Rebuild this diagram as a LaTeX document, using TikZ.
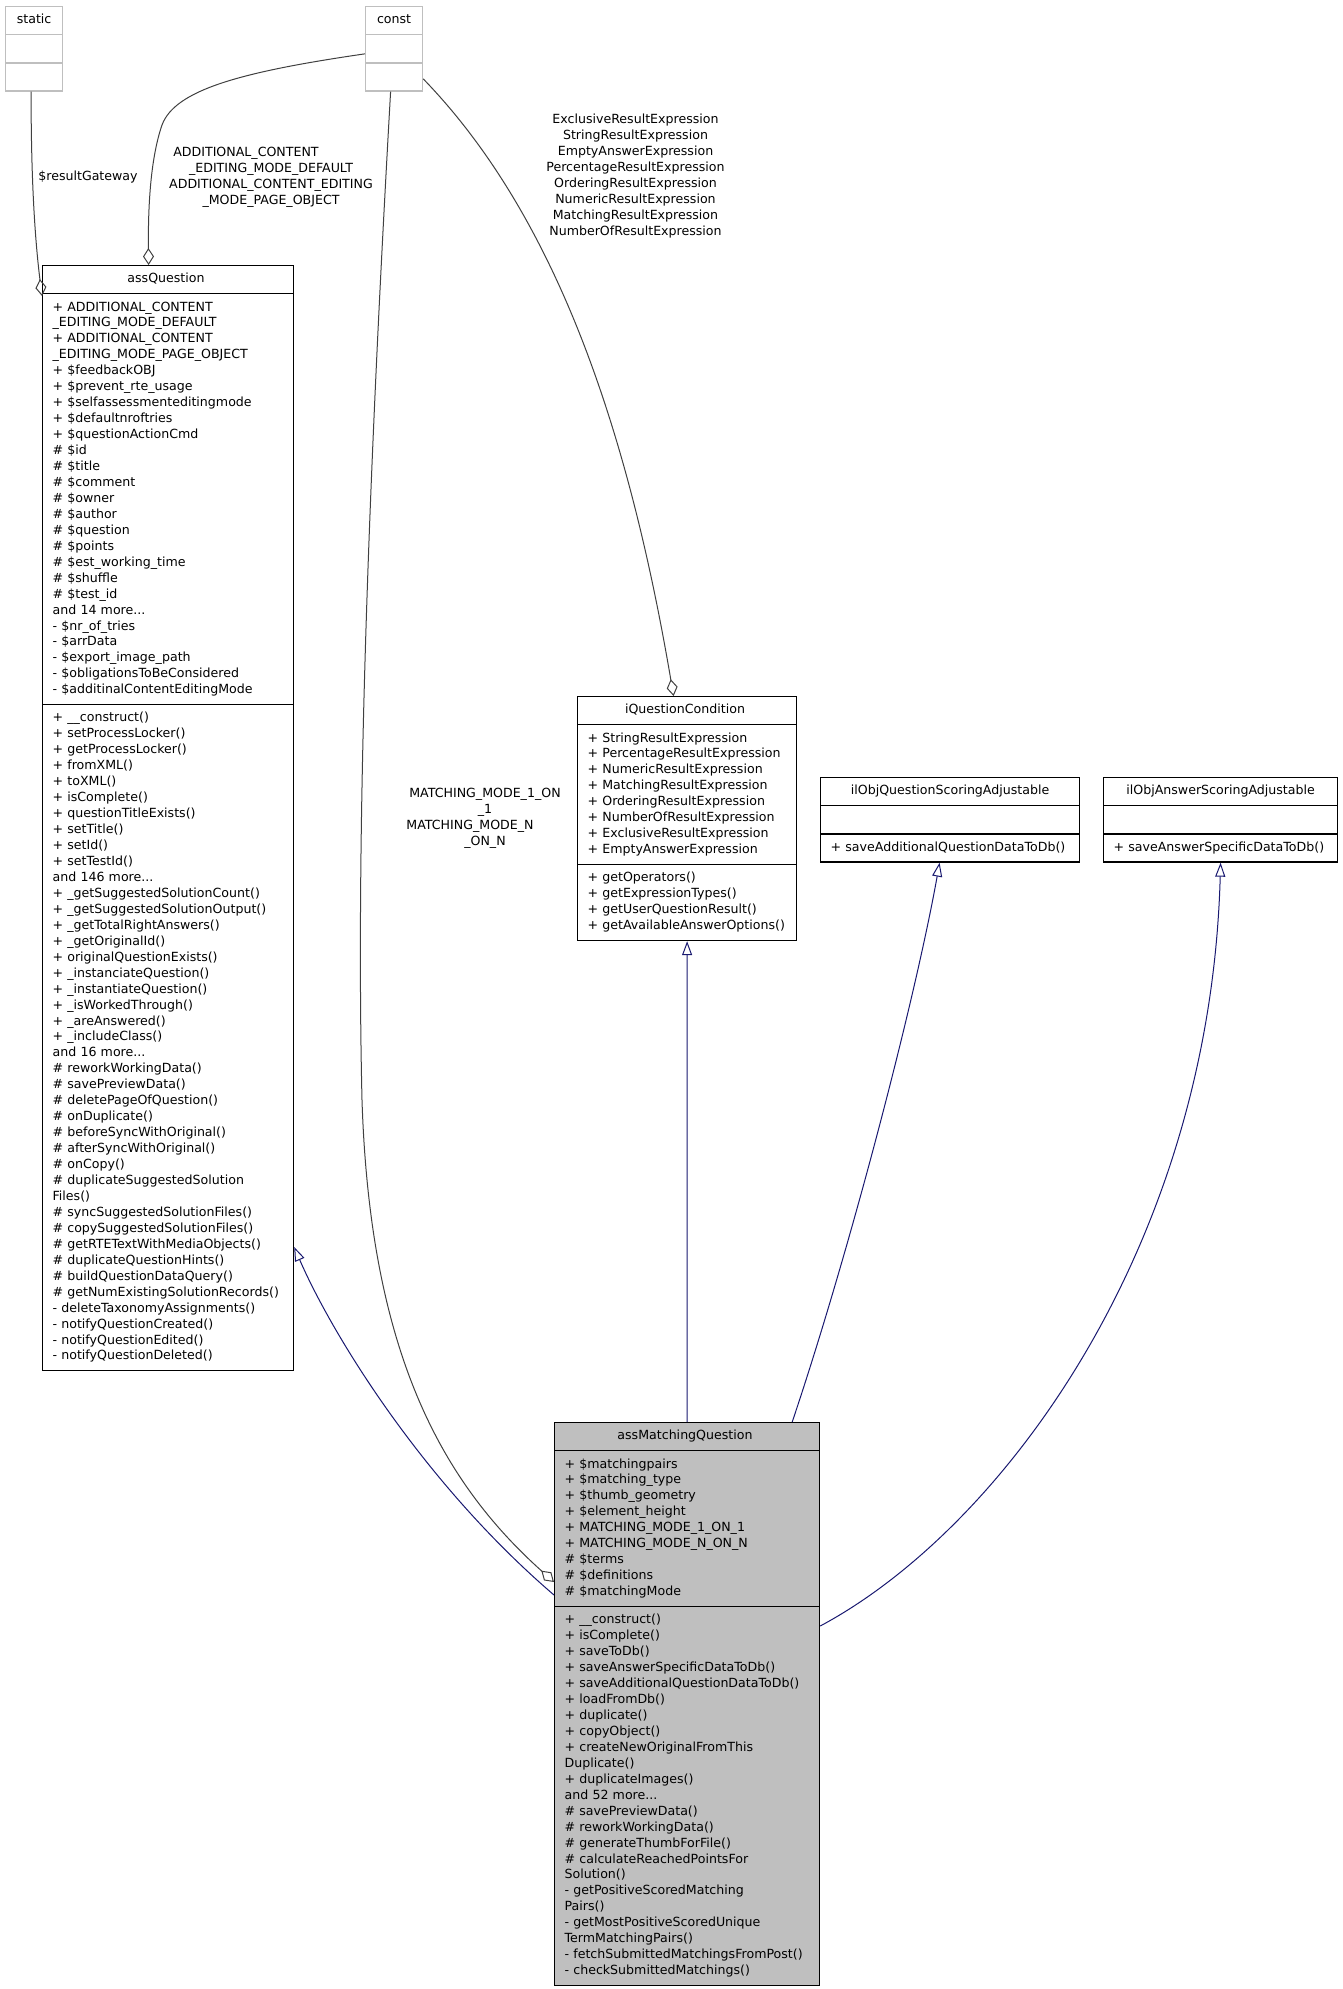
\documentclass[tikz,border=0pt]{standalone}
\usepackage{fontspec}
\setmainfont{DejaVu Sans}
\usepackage{tikz}
\usetikzlibrary{positioning,shapes.multipart,arrows.meta}
\definecolor{edgegray}{HTML}{404040}
\definecolor{inhblue}{HTML}{191970}
\definecolor{boxgray}{HTML}{BFBFBF}
\newcommand{\umlfont}{\fontsize{12.6bp}{15.95bp}\selectfont}
\hyphenpenalty=10000
\exhyphenpenalty=10000

\begin{document}
\begin{tikzpicture}[x=1bp,y=-1bp]
  \tikzstyle{classbox}=[rectangle split, rectangle split parts=3, draw=black, line width=1.2bp,
    fill=white, font=\umlfont, align=left, anchor=north west, inner xsep=10bp, inner ysep=5.5bp,
    execute at begin node=\strut, execute at end node=\strut,
    rectangle split empty part height=11.17bp, rectangle split empty part depth=4.78bp,
    every text node part/.style={align=center}]
  \tikzstyle{dimbox}=[classbox, draw=boxgray]
  \tikzstyle{thisbox}=[classbox, fill=boxgray]
  \tikzstyle{edgelabel}=[font=\umlfont, align=center, inner sep=0pt]
  \tikzstyle{aggr}=[draw=edgegray, line width=1bp, -{Diamond[open, length=17bp, width=11bp]}]
  \tikzstyle{inherit}=[draw=inhblue, line width=1bp, -{Triangle[open, length=14bp, width=10bp]}]
  \useasboundingbox (0,0) rectangle (1343,1989);

  \node[dimbox, text width=37bp] (C_static) at (5,6) {static\nodepart{two}\nodepart{three}};
  \node[dimbox, text width=37bp] (C_const) at (365,6) {const\nodepart{two}\nodepart{three}};

  \node[classbox, text width=231bp] (C_assQuestion) at (42,265) {assQuestion
    \nodepart{two}
    +~ADDITIONAL\_CONTENT\\
    \_EDITING\_MODE\_DEFAULT\\
    +~ADDITIONAL\_CONTENT\\
    \_EDITING\_MODE\_PAGE\_OBJECT\\
    +~\$feedbackOBJ\\
    +~\$prevent\_rte\_usage\\
    +~\$selfassessmenteditingmode\\
    +~\$defaultnroftries\\
    +~\$questionActionCmd\\
    \#~\$id\\
    \#~\$title\\
    \#~\$comment\\
    \#~\$owner\\
    \#~\$author\\
    \#~\$question\\
    \#~\$points\\
    \#~\$est\_working\_time\\
    \#~\$shuffle\\
    \#~\$test\_id\\
    and~14~more...\\
    -~\$nr\_of\_tries\\
    -~\$arrData\\
    -~\$export\_image\_path\\
    -~\$obligationsToBeConsidered\\
    -~\$additinalContentEditingMode
    \nodepart{three}
    +~\_\_construct()\\
    +~setProcessLocker()\\
    +~getProcessLocker()\\
    +~fromXML()\\
    +~toXML()\\
    +~isComplete()\\
    +~questionTitleExists()\\
    +~setTitle()\\
    +~setId()\\
    +~setTestId()\\
    and~146~more...\\
    +~\_getSuggestedSolutionCount()\\
    +~\_getSuggestedSolutionOutput()\\
    +~\_getTotalRightAnswers()\\
    +~\_getOriginalId()\\
    +~originalQuestionExists()\\
    +~\_instanciateQuestion()\\
    +~\_instantiateQuestion()\\
    +~\_isWorkedThrough()\\
    +~\_areAnswered()\\
    +~\_includeClass()\\
    and~16~more...\\
    \#~reworkWorkingData()\\
    \#~savePreviewData()\\
    \#~deletePageOfQuestion()\\
    \#~onDuplicate()\\
    \#~beforeSyncWithOriginal()\\
    \#~afterSyncWithOriginal()\\
    \#~onCopy()\\
    \#~duplicateSuggestedSolution\\
    Files()\\
    \#~syncSuggestedSolutionFiles()\\
    \#~copySuggestedSolutionFiles()\\
    \#~getRTETextWithMediaObjects()\\
    \#~duplicateQuestionHints()\\
    \#~buildQuestionDataQuery()\\
    \#~getNumExistingSolutionRecords()\\
    -~deleteTaxonomyAssignments()\\
    -~notifyQuestionCreated()\\
    -~notifyQuestionEdited()\\
    -~notifyQuestionDeleted()};

  \node[classbox, text width=199bp] (C_iCondition) at (577,696) {iQuestionCondition
    \nodepart{two}
    +~StringResultExpression\\
    +~PercentageResultExpression\\
    +~NumericResultExpression\\
    +~MatchingResultExpression\\
    +~OrderingResultExpression\\
    +~NumberOfResultExpression\\
    +~ExclusiveResultExpression\\
    +~EmptyAnswerExpression
    \nodepart{three}
    +~getOperators()\\
    +~getExpressionTypes()\\
    +~getUserQuestionResult()\\
    +~getAvailableAnswerOptions()};

  \node[classbox, text width=239bp] (C_qScoring) at (820,777) {ilObjQuestionScoringAdjustable\nodepart{two}\nodepart{three}+~saveAdditionalQuestionDataToDb()};
  \node[classbox, text width=214bp] (C_aScoring) at (1103,777) {ilObjAnswerScoringAdjustable\nodepart{two}\nodepart{three}+~saveAnswerSpecificDataToDb()};

  \node[thisbox, text width=245bp] (C_matching) at (554,1422) {assMatchingQuestion
    \nodepart{two}
    +~\$matchingpairs\\
    +~\$matching\_type\\
    +~\$thumb\_geometry\\
    +~\$element\_height\\
    +~MATCHING\_MODE\_1\_ON\_1\\
    +~MATCHING\_MODE\_N\_ON\_N\\
    \#~\$terms\\
    \#~\$definitions\\
    \#~\$matchingMode
    \nodepart{three}
    +~\_\_construct()\\
    +~isComplete()\\
    +~saveToDb()\\
    +~saveAnswerSpecificDataToDb()\\
    +~saveAdditionalQuestionDataToDb()\\
    +~loadFromDb()\\
    +~duplicate()\\
    +~copyObject()\\
    +~createNewOriginalFromThis\\
    Duplicate()\\
    +~duplicateImages()\\
    and~52~more...\\
    \#~savePreviewData()\\
    \#~reworkWorkingData()\\
    \#~generateThumbForFile()\\
    \#~calculateReachedPointsFor\\
    Solution()\\
    -~getPositiveScoredMatching\\
    Pairs()\\
    -~getMostPositiveScoredUnique\\
    TermMatchingPairs()\\
    -~fetchSubmittedMatchingsFromPost()\\
    -~checkSubmittedMatchings()};

  \node[edgelabel] (L_gateway) at (88,177) {\$resultGateway};
  \node[edgelabel] (L_editing) at (271,177) {ADDITIONAL\_CONTENT\kern50bp\\\_EDITING\_MODE\_DEFAULT\\ADDITIONAL\_CONTENT\_EDITING\\\_MODE\_PAGE\_OBJECT};
  \node[edgelabel] (L_modes) at (485,818) {MATCHING\_MODE\_1\_ON\\\_1\\MATCHING\_MODE\_N\kern30bp\\\_ON\_N};
  \node[edgelabel] (L_expr) at (635.5,176) {ExclusiveResultExpression\\StringResultExpression\\EmptyAnswerExpression\\PercentageResultExpression\\OrderingResultExpression\\NumericResultExpression\\MatchingResultExpression\\NumberOfResultExpression};

  \draw[aggr] ([xshift=-3bp]C_static.south) .. controls (31,180) and (35,240) .. ([yshift=-31bp]C_assQuestion.north west);
  \draw[aggr] ([yshift=-5bp]C_const.west) .. controls (240,72) and (175,90) .. (162,125)
    .. controls (150,160) and (148,210) .. ([xshift=-19.5bp]C_assQuestion.north);
  \draw[aggr] ([xshift=-3.5bp]C_const.south) .. controls (372,420) and (355,800) .. (362,1100)
    .. controls (370,1350) and (440,1480) .. ([yshift=-160bp]C_matching.north west);
  \draw[aggr] ([yshift=-30bp]C_const.east) .. controls (560,220) and (630,440) .. ([xshift=-13.5bp]C_iCondition.north);

  \draw[inherit] ([yshift=-173bp]C_matching.north west) .. controls (420,1480) and (330,1330) .. ([yshift=-982bp]C_assQuestion.north east);
  \draw[inherit] (C_matching.north) -- (C_iCondition.south);
  \draw[inherit] ([xshift=-28bp]C_matching.north east) .. controls (850,1250) and (915,1000) .. ([xshift=-10.5bp]C_qScoring.south);
  \draw[inherit] ([yshift=-204bp]C_matching.north east) .. controls (1000,1530) and (1210,1250) .. (C_aScoring.south);
\end{tikzpicture}
\end{document}
